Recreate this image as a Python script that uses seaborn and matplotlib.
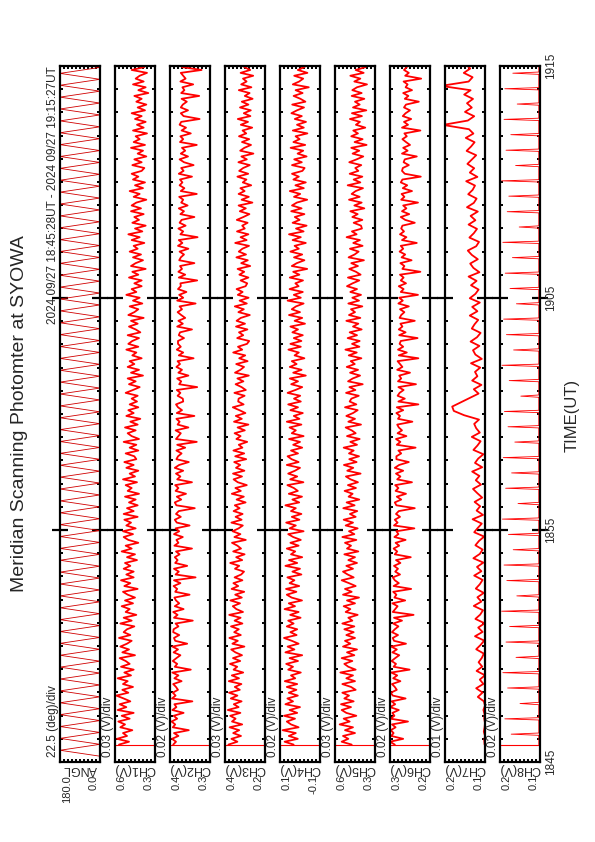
import numpy as np
import pandas as pd
import seaborn as sns
import matplotlib.pyplot as plt
from matplotlib.ticker import FixedLocator, NullLocator, MultipleLocator

sns.set_theme(style="white")
plt.rcParams['font.family'] = ['Liberation Sans', 'DejaVu Sans']
plt.rcParams['path.simplify'] = False
narrow = ['Liberation Sans Narrow', 'Liberation Sans', 'DejaVu Sans']

# panel setup (top to bottom in the original landscape layout)
panel_names = ['ANGL', 'CH1(V)', 'CH2(V)', 'CH3(V)', 'CH4(V)', 'CH5(V)', 'CH6(V)', 'CH7(V)', 'CH8(V)']
panel_hi = [180.0, 0.6, 0.4, 0.4, 0.1, 0.6, 0.3, 0.2, 0.2]
panel_lo = [0.0, 0.3, 0.3, 0.2, -0.1, 0.3, 0.2, 0.1, 0.1]
hi_labels = ['180.0', '0.6', '0.4', '0.4', '0.1', '0.6', '0.3', '0.2', '0.2']
lo_labels = ['0.0', '0.3', '0.3', '0.2', '-0.1', '0.3', '0.2', '0.1', '0.1']
div_labels = ['22.5 (deg)/div', '0.03 (V)/div', '0.02 (V)/div', '0.03 (V)/div', '0.02 (V)/div',
              '0.03 (V)/div', '0.02 (V)/div', '0.01 (V)/div', '0.02 (V)/div']
time_ticks = [0, 10, 20, 30]           # minutes after 18:45
time_labels = ['1845', '1855', '1905', '1915']

# scan angle turning points (deg)
angl = [0, 180, 0, 180, 0, 180, 0, 180, 0, 180, 0, 180, 0, 180, 0, 180, 0, 180, 0, 180,
        0, 180, 0, 180, 0, 180, 0, 180, 0, 180, 0, 180, 0, 180, 0, 180, 0, 180, 0, 180,
        0, 180, 0, 180, 0, 180, 0, 180, 0, 180, 0, 180, 0, 180, 0, 180, 0, 180, 0, 180,
        0, 180, 0, 180, 0, 180, 0, 180, 0, 180, 0, 180, 0, 180, 0, 180, 0, 180, 0, 180,
        0, 180, 0, 180, 0, 180, 0, 180, 0, 180, 0, 180, 0, 180, 0, 180, 0, 180, 0, 180,
        0, 180, 0, 180, 0, 180, 0, 180, 0, 180, 0, 180, 0, 180, 0, 180, 0, 180, 0]

# channel readings in mV, 18:45:45 -> 19:15:27
ch1 = [570, 495, 585, 510, 540, 470, 560, 525, 575, 490, 550, 460, 580, 515, 565, 485, 535, 590, 500, 545,
       465, 540, 505, 580, 480, 530, 460, 555, 490, 520, 565, 450, 545, 495, 560, 510, 475, 570, 485, 535,
       510, 455, 560, 475, 535, 440, 520, 490, 550, 465, 525, 450, 505, 540, 430, 530, 485, 555, 460, 515,
       460, 535, 485, 525, 435, 510, 450, 550, 475, 520, 425, 500, 535, 465, 540, 445, 515, 480, 530, 430,
       535, 460, 510, 430, 495, 445, 525, 420, 505, 475, 520, 435, 540, 450, 490, 425, 515, 460, 530, 440,
       455, 520, 425, 490, 440, 535, 420, 475, 505, 445, 525, 430, 485, 410, 515, 460, 500, 425, 490, 435,
       475, 430, 520, 465, 415, 495, 445, 505, 390, 480, 420, 505, 455, 490, 400, 470, 440, 515, 425, 500,
       470, 420, 505, 410, 445, 495, 430, 480, 385, 500, 455, 425, 490, 395, 465, 415, 515, 440, 475, 400,
       455, 400, 495, 425, 470, 370, 480, 445, 390, 465, 405, 490, 430, 460, 380, 475, 415, 500, 395, 450,
       370, 470, 420, 455, 385, 480, 405, 475, 440, 365, 460, 415, 490, 390, 450, 375, 465, 425, 475, 400,
       380, 470, 400, 455, 365, 430, 390, 480, 375, 460, 415, 445, 360, 465, 385, 435, 370, 450, 400, 475,
       375, 430, 365, 440, 400, 455, 350, 425, 370, 465, 385, 445, 415, 360, 475, 380, 430, 365, 460, 395]

ch2 = [392, 385, 395, 379, 390, 353, 393, 387, 396, 382, 391, 366, 394, 384, 389, 344, 395, 386, 393, 380,
       385, 392, 371, 389, 379, 394, 348, 388, 382, 393, 384, 374, 391, 380, 394, 357, 387, 390, 377, 392,
       391, 379, 386, 343, 390, 381, 392, 366, 388, 377, 385, 389, 351, 387, 382, 391, 374, 390, 336, 386,
       378, 390, 357, 387, 381, 388, 376, 385, 345, 389, 379, 384, 368, 390, 377, 386, 351, 383, 388, 373,
       385, 378, 338, 384, 388, 372, 383, 360, 386, 379, 387, 345, 382, 374, 385, 367, 388, 377, 353, 384,
       380, 371, 384, 362, 382, 333, 385, 379, 373, 386, 354, 381, 376, 384, 339, 383, 370, 380, 385, 367,
       368, 381, 374, 383, 332, 377, 372, 382, 354, 379, 370, 384, 375, 381, 341, 378, 367, 383, 373, 380,
       380, 365, 378, 375, 345, 382, 368, 379, 362, 372, 381, 370, 376, 336, 382, 367, 377, 359, 380, 373,
       374, 332, 378, 362, 379, 370, 375, 339, 377, 373, 365, 376, 354, 380, 369, 378, 331, 374, 367, 379,
       361, 376, 371, 339, 374, 365, 378, 356, 372, 367, 377, 333, 373, 364, 376, 369, 375, 345, 378, 366,
       372, 341, 365, 376, 355, 373, 362, 370, 333, 375, 367, 374, 348, 371, 360, 376, 372, 326, 366, 373,
       355, 373, 368, 358, 371, 327, 372, 364, 369, 342, 374, 361, 367, 373, 321, 370, 350, 372, 359, 368]

ch3 = [383, 338, 368, 320, 359, 329, 377, 314, 365, 347, 374, 323, 386, 332, 356, 317, 371, 338, 380, 326,
       351, 318, 381, 330, 366, 309, 357, 339, 375, 324, 360, 315, 348, 369, 303, 363, 336, 378, 321, 354,
       331, 370, 313, 352, 322, 379, 310, 343, 361, 325, 373, 316, 349, 304, 367, 334, 358, 313, 352, 319,
       305, 350, 329, 374, 314, 344, 302, 359, 320, 338, 365, 296, 353, 323, 362, 332, 311, 368, 317, 347,
       312, 357, 327, 351, 297, 342, 306, 366, 321, 348, 291, 336, 357, 315, 360, 303, 345, 324, 354, 294,
       349, 304, 358, 313, 331, 289, 343, 322, 352, 301, 337, 283, 355, 316, 346, 298, 328, 361, 307, 334,
       332, 302, 353, 296, 317, 347, 308, 338, 281, 350, 323, 305, 344, 287, 329, 299, 359, 314, 335, 290,
       279, 339, 309, 330, 288, 345, 300, 342, 321, 276, 333, 306, 351, 291, 327, 282, 336, 312, 342, 297,
       289, 322, 283, 328, 304, 337, 274, 319, 286, 343, 295, 331, 313, 280, 349, 292, 322, 283, 340, 301,
       314, 287, 341, 308, 278, 326, 296, 332, 263, 317, 281, 332, 302, 323, 269, 311, 293, 338, 284, 329,
       309, 276, 333, 291, 318, 258, 324, 303, 270, 315, 279, 330, 294, 312, 264, 321, 285, 336, 273, 306,
       271, 325, 283, 316, 262, 301, 277, 331, 268, 319, 292, 310, 259, 322, 274, 304, 265, 313, 283, 328]

ch4 = [32, 77, 11, 56, 21, 87, 7, 45, 66, 25, 80, 14, 52, 0, 73, 35, 63, 11, 56, 18,
       66, 14, 76, 24, 45, -4, 59, 35, 69, 10, 52, -11, 73, 28, 62, 7, 41, 80, 17, 48,
       14, 66, 32, 59, -3, 49, 7, 77, 25, 56, -10, 42, 66, 18, 70, 4, 52, 28, 63, -7,
       38, 0, 73, 14, 55, -11, 45, 24, 66, 7, 48, -4, 34, 59, -18, 52, 21, 69, 3, 41,
       -7, 45, 21, 73, 4, 38, -10, 56, 11, 31, 63, -17, 49, 14, 59, 25, 0, 66, 7, 42,
       62, 10, 45, -11, 34, 0, 55, -18, 41, 21, 52, -7, 66, 3, 31, -14, 48, 10, 59, -4,
       30, -1, 62, 23, -11, 44, 10, 51, -29, 34, -8, 51, 17, 41, -22, 27, 6, 58, -4, 48,
       -7, 31, -14, 38, 10, 48, -25, 27, -11, 55, 0, 41, 20, -18, 62, -4, 31, -14, 52, 7,
       23, -15, 51, 3, 34, -36, 41, 16, -22, 30, -11, 48, 6, 27, -29, 37, -4, 55, -18, 20,
       -33, 37, 2, 26, -22, 44, -8, 40, 16, -36, 30, -1, 51, -19, 23, -29, 33, 6, 40, -12,
       -23, 40, -9, 29, -33, 12, -16, 47, -26, 33, 2, 22, -37, 36, -19, 15, -30, 26, -9, 43,
       15, -20, 39, -27, -2, 32, -13, 22, -44, 36, 4, -16, 29, -37, 11, -23, 46, -6, 18, -34]

ch5 = [475, 550, 500, 540, 450, 525, 465, 565, 490, 535, 440, 515, 550, 480, 555, 460, 530, 495, 545, 445,
       480, 545, 450, 515, 465, 560, 445, 500, 530, 470, 550, 455, 510, 435, 540, 485, 525, 450, 515, 460,
       530, 455, 545, 470, 500, 430, 520, 485, 535, 450, 510, 420, 540, 475, 525, 445, 495, 550, 460, 505,
       540, 465, 515, 435, 500, 450, 530, 425, 510, 480, 525, 440, 545, 455, 495, 430, 520, 465, 535, 445,
       488, 433, 538, 453, 513, 418, 498, 468, 528, 443, 503, 428, 483, 518, 408, 508, 463, 533, 438, 493,
       420, 495, 460, 535, 435, 485, 415, 510, 445, 475, 520, 405, 500, 450, 515, 465, 430, 525, 440, 490,
       477, 422, 517, 447, 492, 392, 502, 467, 412, 487, 427, 512, 452, 482, 402, 497, 437, 522, 417, 472,
       415, 505, 435, 490, 400, 465, 425, 515, 410, 495, 450, 480, 395, 500, 420, 470, 405, 485, 435, 510,
       468, 418, 503, 408, 443, 493, 428, 478, 383, 498, 453, 423, 488, 393, 463, 413, 513, 438, 473, 398,
       405, 460, 395, 470, 430, 485, 380, 455, 400, 495, 415, 475, 445, 390, 505, 410, 460, 395, 490, 425,
       448, 403, 493, 438, 388, 468, 418, 478, 363, 453, 393, 478, 428, 463, 373, 443, 413, 488, 398, 473,
       365, 465, 415, 450, 380, 475, 400, 470, 435, 360, 455, 410, 485, 385, 445, 370, 460, 420, 470, 395]

ch6 = [288, 300, 267, 297, 291, 298, 286, 295, 255, 299, 289, 294, 278, 300, 287, 296, 261, 293, 298, 283,
       288, 295, 274, 292, 282, 297, 251, 291, 285, 296, 287, 277, 294, 283, 297, 260, 290, 293, 280, 295,
       288, 279, 292, 270, 290, 241, 293, 287, 281, 294, 262, 289, 284, 292, 247, 291, 278, 288, 293, 275,
       287, 280, 290, 274, 285, 248, 288, 282, 291, 277, 286, 261, 289, 279, 284, 239, 290, 281, 288, 275,
       285, 278, 238, 284, 288, 272, 283, 260, 286, 279, 287, 245, 282, 274, 285, 267, 288, 277, 253, 284,
       284, 272, 279, 236, 283, 274, 285, 259, 281, 270, 278, 282, 244, 280, 275, 284, 267, 283, 229, 279,
       263, 281, 276, 266, 279, 235, 280, 272, 277, 250, 282, 269, 275, 281, 229, 278, 258, 280, 267, 276,
       273, 231, 277, 261, 278, 269, 274, 238, 276, 272, 264, 275, 253, 279, 268, 277, 230, 273, 266, 278,
       260, 273, 266, 275, 224, 269, 264, 274, 246, 271, 262, 276, 267, 273, 233, 270, 259, 275, 265, 272,
       269, 238, 262, 273, 252, 270, 259, 267, 230, 272, 264, 271, 245, 268, 257, 273, 269, 223, 263, 270,
       268, 253, 266, 263, 233, 270, 256, 267, 250, 260, 269, 258, 264, 224, 270, 255, 265, 247, 268, 261,
       250, 265, 260, 228, 263, 254, 267, 245, 261, 256, 266, 222, 262, 253, 265, 258, 264, 234, 267, 255]

ch7 = [101, 102, 100, 103, 101, 100, 102, 101, 104, 100, 103, 118, 106, 122, 104, 113, 100, 121, 107, 116,
       108, 103, 122, 111, 102, 125, 106, 117, 101, 124, 112, 105, 128, 109, 119, 103, 123, 113, 106, 127,
       109, 120, 104, 129, 113, 106, 124, 115, 102, 127, 118, 108, 131, 105, 121, 112, 126, 107, 119, 130,
       110, 123, 114, 132, 107, 125, 117, 104, 129, 119, 111, 133, 113, 122, 127, 115, 152, 178, 182, 160,
       138, 116, 128, 109, 132, 119, 125, 112, 135, 108, 124, 130, 114, 136, 120, 111, 133, 126, 117, 138,
       119, 132, 113, 138, 124, 116, 135, 121, 141, 114, 129, 137, 118, 133, 143, 122, 115, 139, 128, 120,
       141, 124, 136, 118, 145, 128, 121, 142, 131, 125, 147, 119, 138, 127, 144, 133, 122, 146, 135, 126,
       148, 129, 140, 205, 143, 127, 150, 133, 145, 130, 152, 136, 210, 141, 131, 153, 137, 148, 128, 151]

# CH8: flat base with narrow periodic spikes (V)
ch8_base = 0.103
ch8_spike_t = [1.20, 1.86, 2.52, 3.19, 3.85, 4.51, 5.17, 5.84, 6.50, 7.16, 7.82,
               8.49, 9.15, 9.81, 10.47, 11.14, 11.80, 12.46, 13.12, 13.79, 14.45, 15.11,
               15.77, 16.44, 17.10, 17.76, 18.42, 19.09, 19.75, 20.41, 21.07, 21.74,
               22.40, 23.06, 23.72, 24.39, 25.05, 25.71, 26.37, 27.04, 27.70, 28.36,
               29.02, 29.69]
ch8_spike_v = [0.172, 0.188, 0.150, 0.181, 0.193, 0.160, 0.185, 0.176, 0.196, 0.158, 0.183,
               0.190, 0.167, 0.179, 0.194, 0.155, 0.186, 0.171, 0.192, 0.163, 0.180, 0.189,
               0.148, 0.177, 0.195, 0.166, 0.184, 0.191, 0.159, 0.175, 0.187, 0.169,
               0.193, 0.152, 0.182, 0.178, 0.196, 0.161, 0.185, 0.173, 0.190, 0.157,
               0.188, 0.168]

# full-scale swing at the start of the record (minutes)
glitch_t = 0.72
glitch_channels = [1, 2, 3, 4, 5, 6, 8]

header = '2024 09/27 18:45:28UT - 2024 09/27 19:15:27UT'

# ---- assemble the series ----
series = [(np.linspace(0.25, 30.45, len(angl)), np.array(angl, float))]
for ch in [ch1, ch2, ch3, ch4, ch5, ch6, ch7]:
    series.append((np.linspace(0.75, 30.45, len(ch)), np.array(ch) / 1000))
t8 = [0.75]
v8 = [ch8_base]
for ts, pk in zip(ch8_spike_t, ch8_spike_v):
    t8 += [ts - 0.05, ts, ts + 0.05]
    v8 += [ch8_base, pk, ch8_base]
t8.append(30.45)
v8.append(ch8_base)
series.append((np.array(t8), np.array(v8)))

# ---- figure (portrait page, plot rotated) ----
W, H = 595, 842
fig = plt.figure(figsize=(W / 100, H / 100), dpi=100)
fig.patch.set_facecolor('white')

bottom_px, top_px = 762, 66
axes = []
for i, name in enumerate(panel_names):
    left = 60 + 55 * i
    ax = fig.add_axes([left / W, 1 - bottom_px / H, 40 / W, (bottom_px - top_px) / H])
    t, v = series[i]
    df = pd.DataFrame({'t': t, 'v': v})
    sns.lineplot(data=df, x='v', y='t', orient='y', sort=False, estimator=None,
                 color='#d00000' if i == 0 else 'red',
                 lw=0.6 if i in (0, 8) else 1.3, ax=ax)
    if i in glitch_channels:
        gl = pd.DataFrame({'t': [glitch_t, glitch_t], 'v': [panel_hi[i], panel_lo[i]]})
        sns.lineplot(data=gl, x='v', y='t', orient='y', sort=False, estimator=None,
                     color='red', lw=0.8, ax=ax)
    ax.set_xlim(panel_hi[i], panel_lo[i])
    ax.set_ylim(0, 30)
    ax.set_xlabel('')
    ax.set_ylabel('')
    for s in ax.spines.values():
        s.set_linewidth(1.6)
        s.set_color('black')
    ax.yaxis.set_major_locator(FixedLocator([10, 20]))
    ax.yaxis.set_minor_locator(MultipleLocator(1))
    ax.xaxis.set_major_locator(NullLocator())
    ax.xaxis.set_minor_locator(FixedLocator(np.linspace(panel_lo[i], panel_hi[i], 11)[1:-1]))
    ax.tick_params(axis='y', which='major', direction='inout', length=11, width=1.6,
                   color='black', left=True, right=True, labelleft=False, labelright=False)
    ax.tick_params(axis='y', which='minor', direction='in', length=2.5, width=1.4,
                   color='black', left=True, right=True)
    ax.tick_params(axis='x', which='minor', direction='in', length=2.5, width=1.4,
                   color='black', top=True, bottom=True)
    ax.tick_params(axis='x', labelbottom=False)

    # labels under each panel
    ax.text(0.5, (bottom_px - 769) / 696, name, rotation=180, ha='center', va='center',
            fontsize=9, transform=ax.transAxes, clip_on=False)
    ax.text(0.04, (bottom_px - 775) / 696, hi_labels[i], rotation=90, ha='left', va='top',
            fontsize=8, transform=ax.transAxes, clip_on=False)
    ax.text(0.96, (bottom_px - 775) / 696, lo_labels[i], rotation=90, ha='right', va='top',
            fontsize=8, transform=ax.transAxes, clip_on=False)
    fig.text((left - 7) / W, 1 - 757 / H, div_labels[i], rotation=90, ha='center', va='bottom',
             fontsize=8.5, family=narrow)
    axes.append(ax)

# time labels to the right of the last panel
ax8 = axes[-1]
for tt, lab in zip(time_ticks, time_labels):
    ax8.text(1.28, tt, lab, rotation=90, ha='center', va='center', fontsize=8.5,
             transform=ax8.get_yaxis_transform(), clip_on=False)

fig.text(53 / W, 1 - 66 / H, header, rotation=90, ha='center', va='top',
         fontsize=8.5, family=narrow)
fig.text(20 / W, 1 - 414 / H, 'Meridian Scanning Photomter at SYOWA', rotation=90,
         ha='center', va='center', fontsize=14)
fig.text(572 / W, 1 - 415 / H, 'TIME(UT)', rotation=90, ha='center', va='center', fontsize=12)

fig.savefig('out.png', dpi=100, facecolor='white')
